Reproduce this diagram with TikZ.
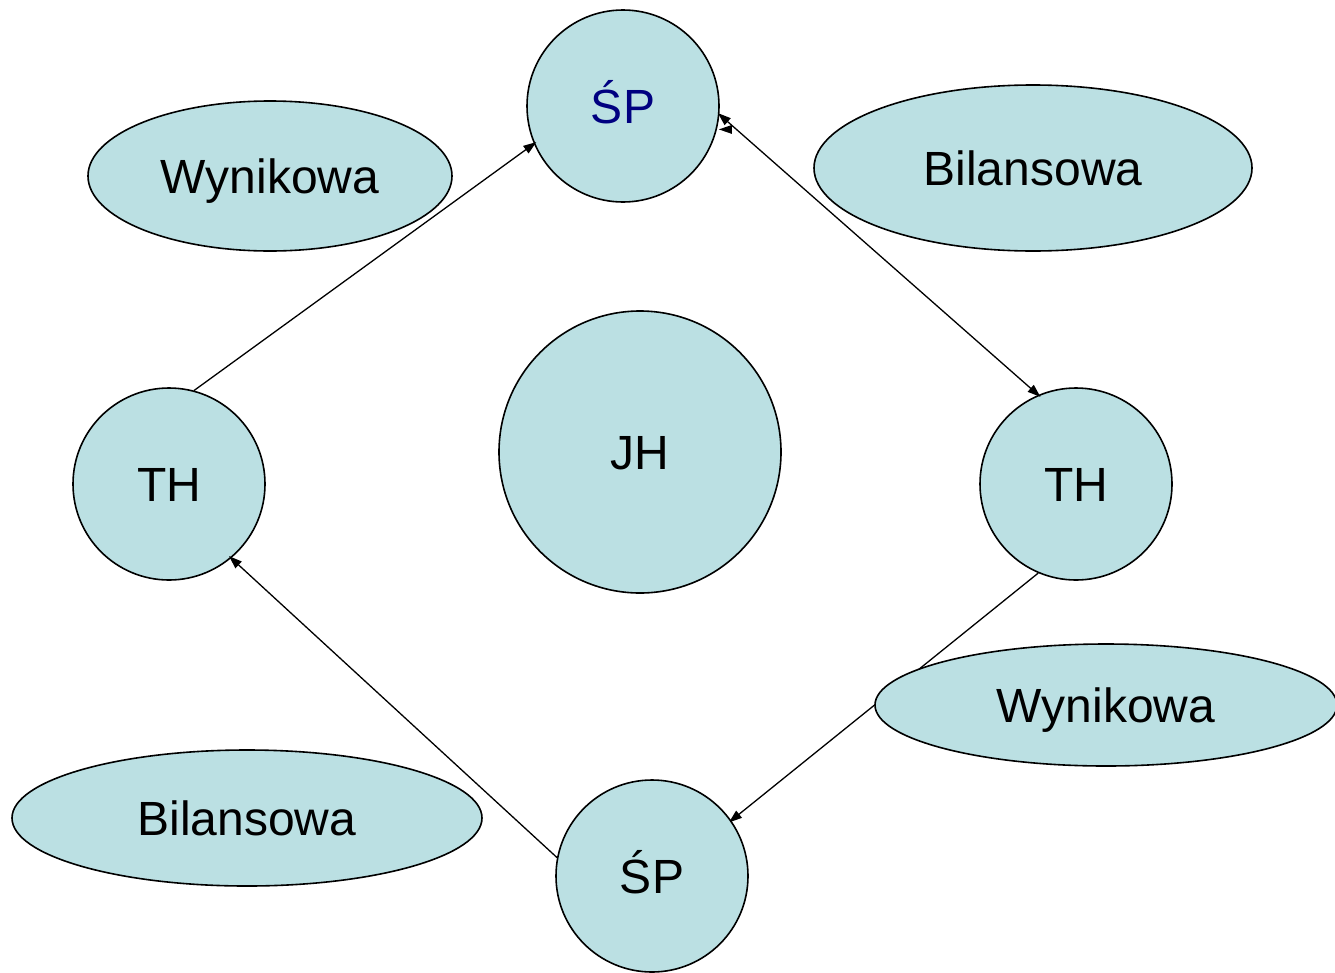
\documentclass[tikz,border=0pt]{standalone}
\usepackage{fontspec}
\setmainfont{Liberation Sans}
\usetikzlibrary{shapes.geometric,arrows.meta,backgrounds}
\definecolor{bubble}{RGB}{187,224,227}
\definecolor{navytext}{RGB}{0,0,128}
\begin{document}
\begin{tikzpicture}[x=1pt,y=-1pt,
  >={Triangle[length=13pt,width=9pt]},
  base/.style={draw=black,line width=1.6pt,fill=bubble,inner sep=0pt,
    font=\fontsize{48}{56}\selectfont,text height=34pt,text depth=0pt},
  circ/.style={base,circle,minimum size=192pt},
  ell/.style={base,ellipse},
  conn/.style={line width=1.3pt,draw=black,shorten >=-3pt}]
\useasboundingbox (0,0) rectangle (1335,972);
\begin{scope}
\clip (0,0) rectangle (1335,972);
\node[circ,text=navytext] (spt) at (623,106) {ŚP};
\node[ell,minimum width=364pt,minimum height=150pt] (wyn1) at (270,176) {Wynikowa};
\node[ell,minimum width=438pt,minimum height=166pt] (bil1) at (1033,168) {Bilansowa};
\node[circ] (thl) at (169,484) {TH};
\node[base,circle,minimum size=282pt] (jh) at (640,452) {JH};
\node[circ] (thr) at (1076,484) {TH};
\node[ell,minimum width=462pt,minimum height=122pt] (wyn2) at (1106,705) {Wynikowa};
\node[ell,minimum width=470pt,minimum height=136pt] (bil2) at (247,818) {Bilansowa};
\node[circ] (spb) at (652,876) {ŚP};
\end{scope}
\begin{scope}[on background layer]
\draw[conn,->] (thr.-113) -- (spb.35);
\end{scope}
\draw[conn,->] (thl.75) -- (spt.203);
\draw[conn,<->,shorten <=-2pt] (spt.-5) -- (thr.113);
\fill[black] ([xshift=2pt]spt.-14) -- ++(13,-4.5) -- ++(0,9) -- cycle;
\draw[conn,->] (spb.169) -- (thl.-50);
\end{tikzpicture}
\end{document}
